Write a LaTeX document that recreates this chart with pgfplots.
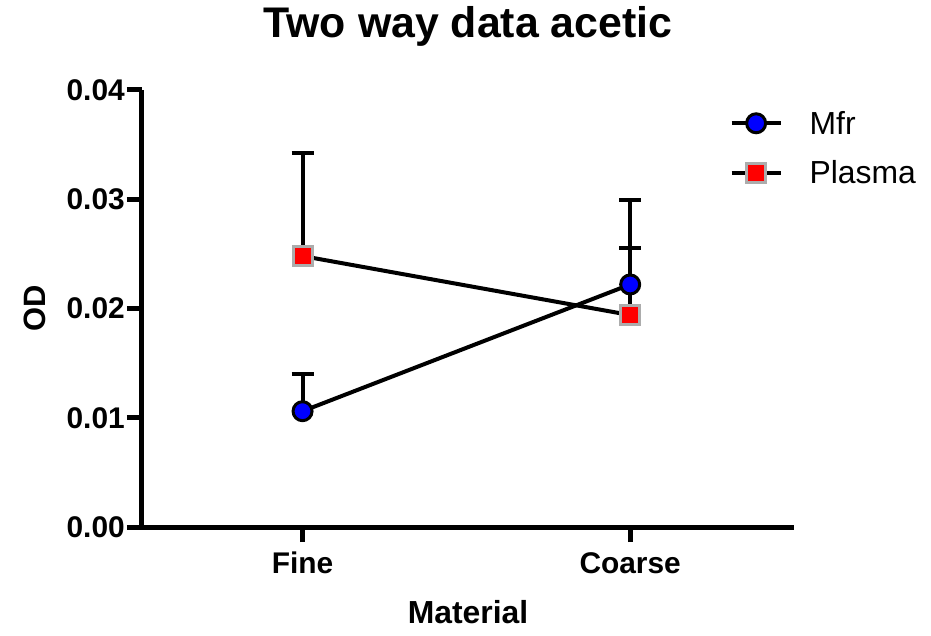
\documentclass[border=0pt]{standalone}
\usepackage{fontspec}
\setmainfont{Liberation Sans}
\usepackage{pgfplots}
\pgfplotsset{compat=1.18}
\usetikzlibrary{calc}

% mean and +SEM
\pgfplotstableread{
x  y       err
0  0.0106  0.0034
1  0.0222  0.0033
}\mfr
\pgfplotstableread{
x  y       err
0  0.0248  0.0094
1  0.0194  0.0105
}\plasma

\begin{document}
\begin{tikzpicture}
\begin{axis}[
    name=ax,
    scale only axis, width=652bp, height=437bp,
    xmin=-0.49, xmax=1.5, ymin=0, ymax=0.04,
    axis x line*=bottom, axis y line*=left,
    axis line style={line width=5bp, -},
    tick align=outside, major tick length=15bp,
    tick style={line width=5bp, black},
    xtick={0,1}, xticklabels={Fine,Coarse},
    ytick={0,0.01,0.02,0.03,0.04},
    scaled y ticks=false,
    yticklabel style={/pgf/number format/fixed, /pgf/number format/fixed zerofill,
                      /pgf/number format/precision=2, inner sep=2bp},
    /pgf/number format/assume math mode=true,
    tick label style={font=\bfseries\fontsize{30}{35}\selectfont},
    xticklabel style={inner sep=10bp},
    title={Two way data acetic},
    title style={font=\bfseries\fontsize{43}{51}\selectfont, at={(0.5,1)}, anchor=center, yshift=58bp},
    xlabel={Material},
    xlabel style={font=\bfseries\fontsize{32}{38}\selectfont, at={(axis description cs:0.5,0)}, anchor=center, yshift=-85bp},
    ylabel={OD},
    ylabel style={font=\bfseries\fontsize{31}{37}\selectfont, at={(axis description cs:0,0.5)}, anchor=center, yshift=107bp},
    clip=false,
    legend style={draw=none, fill=none, font=\fontsize{32}{38}\selectfont,
                  at={(0.901,0.957)}, anchor=north west, inner sep=0pt,
                  row sep=21bp,
                  /tikz/every odd column/.append style={column sep=25bp}},
    legend cell align={left},
    legend image code/.code={
        \draw[line width=4bp, black] (0bp,0bp) -- (49bp,0bp);
        \draw plot[mark repeat=1] coordinates {(24.5bp,0bp)};
    },
    error bars/y dir=plus, error bars/y explicit,
    error bars/error bar style={line width=4bp, black},
    error bars/error mark options={rotate=90, mark size=11bp, line width=4bp, black},
]
\addplot[line width=4bp, black, mark=*, mark size=9.5bp,
         mark options={fill=blue, draw=black, line width=3bp}]
  table[x=x, y=y, y error=err] {\mfr};
\addlegendentry{Mfr}
\addplot[line width=4bp, black, mark=square*, mark size=9.5bp,
         mark options={fill=red, draw=gray!65, line width=3bp}]
  table[x=x, y=y, y error=err] {\plasma};
\addlegendentry{Plasma}
\end{axis}
\pgfresetboundingbox
\path[use as bounding box] ($(ax.south west)+(-142bp,-109bp)$) rectangle ($(ax.north east)+(137bp,90bp)$);
\end{tikzpicture}
\end{document}
